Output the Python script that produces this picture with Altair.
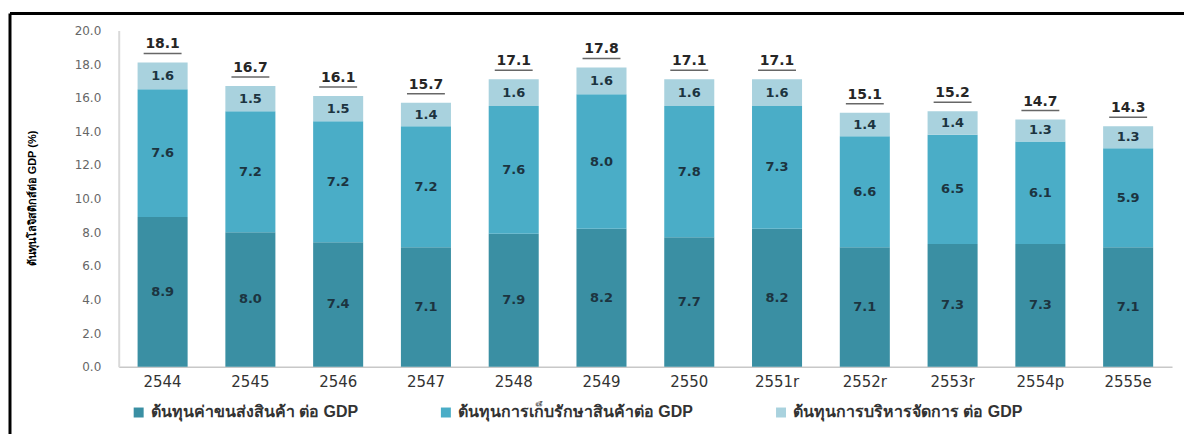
import altair as alt
import pandas as pd

years = ["2544", "2545", "2546", "2547", "2548", "2549", "2550",
         "2551r", "2552r", "2553r", "2554p", "2555e"]
transport = [8.9, 8.0, 7.4, 7.1, 7.9, 8.2, 7.7, 8.2, 7.1, 7.3, 7.3, 7.1]
storage = [7.6, 7.2, 7.2, 7.2, 7.6, 8.0, 7.8, 7.3, 6.6, 6.5, 6.1, 5.9]
admin = [1.6, 1.5, 1.5, 1.4, 1.6, 1.6, 1.6, 1.6, 1.4, 1.4, 1.3, 1.3]
totals = [18.1, 16.7, 16.1, 15.7, 17.1, 17.8, 17.1, 17.1, 15.1, 15.2, 14.7, 14.3]
y_ticks = [0, 2, 4, 6, 8, 10, 12, 14, 16, 18, 20]

series_names = ["ต้นทุนค่าขนส่งสินค้า ต่อ GDP",
                "ต้นทุนการเก็บรักษาสินค้าต่อ GDP",
                "ต้นทุนการบริหารจัดการ ต่อ GDP"]
colors = ["#3a8fa3", "#4aadc7", "#a9d2de"]
y_title = "ต้นทุนโลจิสติกส์ต่อ GDP (%)"

rows = []
for i, yr in enumerate(years):
    base = 0.0
    for k, vals in enumerate([transport, storage, admin]):
        v = vals[i]
        rows.append({"year": yr, "series": series_names[k], "order": k,
                     "value": v, "mid": base + v / 2})
        base += v
df = pd.DataFrame(rows)
tot = pd.DataFrame({"year": years, "total": totals})

FONT = "DejaVu Sans"

x_axis = alt.Axis(title=None, labelAngle=0, labelFontSize=15,
                  labelColor="#333333", labelFont=FONT,
                  labelPadding=8, ticks=False,
                  domainColor="#c8c8c8", domainWidth=1.5)
x_scale = alt.Scale(paddingInner=0.43, paddingOuter=0.215)
y_axis = alt.Axis(title=y_title, values=y_ticks,
                  format=".1f", grid=False, ticks=False,
                  labelOverlap=False,
                  labelFontSize=12, labelColor="#666666",
                  labelFont=FONT, labelPadding=18,
                  domainColor="#d9d9d9", domainWidth=2,
                  titleFontSize=11, titleFontWeight="bold",
                  titleColor="#000000", titleAngle=270,
                  titleX=-86, titleY=168, titleAlign="center",
                  titleBaseline="middle")
y_scale = alt.Scale(domain=[0, 20], nice=False)


def xenc():
    return alt.X("year:N", sort=years, scale=x_scale, axis=x_axis)


def yenc(field, **kw):
    return alt.Y(field, scale=y_scale, axis=y_axis, **kw)


bars = alt.Chart(df).mark_bar().encode(
    x=xenc(),
    y=yenc("value:Q", stack="zero"),
    color=alt.Color("series:N", sort=series_names,
                    scale=alt.Scale(domain=series_names, range=colors),
                    legend=alt.Legend(title=None, orient="none",
                                      direction="horizontal",
                                      legendX=12, legendY=375,
                                      symbolType="square", symbolSize=100,
                                      symbolStrokeWidth=0,
                                      labelFontSize=16, labelFontWeight="bold",
                                      labelColor="#333333", labelLimit=400,
                                      columnPadding=80)),
    order=alt.Order("order:Q"),
)

seg_labels = alt.Chart(df).mark_text(fontSize=13, fontWeight="bold",
                                     color="#1c3440", font=FONT,
                                     baseline="middle").encode(
    x=xenc(),
    y=yenc("mid:Q"),
    text=alt.Text("value:Q", format=".1f"),
)

tot_labels = alt.Chart(tot).mark_text(fontSize=14, fontWeight="bold",
                                      color="#262626", font=FONT,
                                      baseline="bottom", dy=-11).encode(
    x=xenc(),
    y=yenc("total:Q"),
    text=alt.Text("total:Q", format=".1f"),
)

underline = alt.Chart(tot).mark_tick(orient="horizontal", size=38,
                                     thickness=1.5, color="#262626",
                                     yOffset=-9).encode(
    x=xenc(),
    y=yenc("total:Q"),
)

one = alt.Chart(pd.DataFrame({"a": [0]}))
frame_top = one.mark_rule(color="#000000", strokeWidth=3).encode(
    x=alt.value(-109), x2=alt.value(1080), y=alt.value(-17))
frame_left = one.mark_rule(color="#000000", strokeWidth=3).encode(
    x=alt.value(-109), y=alt.value(-17), y2=alt.value(420))

chart = alt.layer(bars, seg_labels, tot_labels, underline,
                  frame_top, frame_left).properties(
    width=1056, height=337,
    background="#ffffff",
    autosize=alt.AutoSizeParams(type="none"),
    padding={"left": 111, "top": 22, "right": 12, "bottom": 67},
).configure_view(strokeWidth=0)

chart.save("out.html", embed_options={"renderer": "svg", "actions": False})
